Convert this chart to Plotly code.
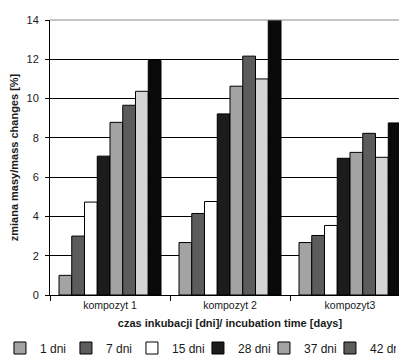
import plotly.graph_objects as go

categories = ["kompozyt 1", "kompozyt 2", "kompozyt3"]
series_names = ["1 dni", "7 dni", "15 dni", "28 dni", "37 dni", "42 dni", "49 dni", "56 dni"]
v_1 = [1.0, 2.67, 2.67]
v_7 = [3.0, 4.15, 3.03]
v_15 = [4.73, 4.76, 3.54]
v_28 = [7.07, 9.22, 6.96]
v_37 = [8.79, 10.63, 7.26]
v_42 = [9.66, 12.16, 8.23]
v_49 = [10.37, 11.0, 7.01]
v_56 = [11.94, 14.1, 8.76]
y_ticks = [0, 2, 4, 6, 8, 10, 12, 14]

values = [v_1, v_7, v_15, v_28, v_37, v_42, v_49, v_56]
colors = ["#a3a3a3", "#5c5c5c", "#ffffff", "#1c1c1c", "#a3a3a3", "#5c5c5c", "#d4d4d4", "#0a0a0a"]
in_legend = [True, True, True, True, True, True, False, False]

FONT = "Liberation Sans, Arial, sans-serif"

fig = go.Figure()
for name, vals, col, leg in zip(series_names, values, colors, in_legend):
    fig.add_trace(go.Bar(
        x=categories, y=vals, name=name, showlegend=leg,
        marker=dict(color=col, line=dict(color="#000000", width=1)),
    ))

fig.update_layout(
    width=407, height=357,
    margin=dict(l=42, r=5, t=12, b=70, autoexpand=False),
    paper_bgcolor="#ffffff", plot_bgcolor="#ffffff",
    barmode="group", bargap=0.15, bargroupgap=0,
    font=dict(family=FONT, color="#1a1a1a"),
    showlegend=True,
    legend=dict(
        orientation="h", x=-0.139, xanchor="left", y=-0.14, yanchor="top",
        font=dict(size=12, color="#1a1a1a"), entrywidth=21, itemwidth=30,
        bgcolor="rgba(0,0,0,0)", traceorder="normal",
    ),
    xaxis=dict(
        type="category", showline=True, linecolor="#000000", linewidth=1,
        ticks="outside", ticklen=5, tickcolor="#000000", tickson="boundaries",
        tickfont=dict(size=10.5, color="#1a1a1a"), automargin=False,
        title=dict(text="<b>czas inkubacji [dni]/ incubation time [days]</b>",
                   font=dict(size=11, color="#1a1a1a"), standoff=9),
        showgrid=False,
    ),
    yaxis=dict(
        range=[0, 14], tickvals=y_ticks, showline=True, linecolor="#000000", linewidth=1,
        ticks="outside", ticklen=4, tickcolor="#000000", automargin=False,
        ticklabelstandoff=4,
        showgrid=True, gridcolor="#000000", gridwidth=1, zeroline=False,
        tickfont=dict(size=11, color="#1a1a1a"),
        title=dict(text="<b>zmiana masy/mass changes [%]</b>",
                   font=dict(size=11, color="#1a1a1a"), standoff=12),
    ),
    shapes=[
        dict(type="line", xref="paper", yref="paper", x0=0, x1=1, y0=1, y1=1,
             line=dict(color="#8a8a8a", width=1), layer="above"),
        dict(type="line", xref="paper", yref="paper", x0=1, x1=1, y0=0, y1=1,
             line=dict(color="#8a8a8a", width=1), layer="above"),
    ],
)

fig.write_html("out.html")
